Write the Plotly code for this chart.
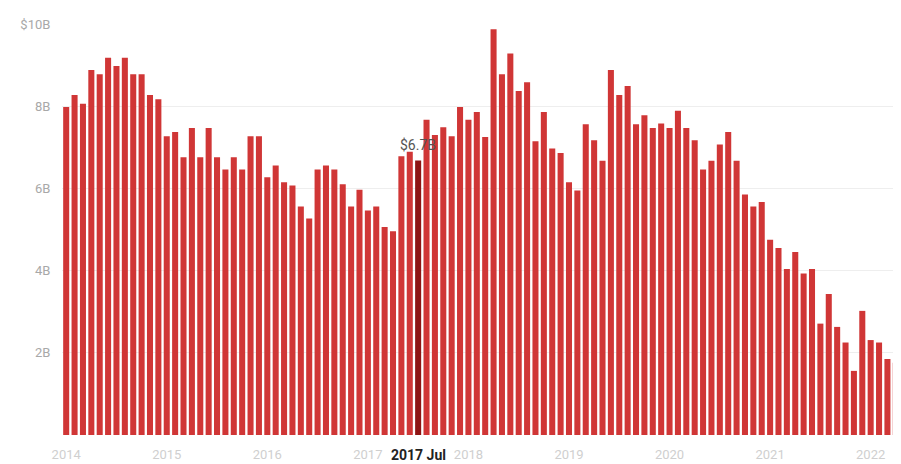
import plotly.graph_objects as go

months = [f"{y} {m}" for y in range(2014, 2023) for m in
          ["Jan", "Feb", "Mar", "Apr", "May", "Jun", "Jul", "Aug", "Sep", "Oct", "Nov", "Dec"]][:100]

values_b = [
    7.98, 8.27, 8.06, 8.88, 8.78, 9.18, 8.98, 9.18, 8.78, 8.78, 8.27, 8.17,   # 2014
    7.27, 7.37, 6.76, 7.47, 6.76, 7.47, 6.76, 6.46, 6.76, 6.46, 7.27, 7.27,   # 2015
    6.27, 6.56, 6.15, 6.07, 5.56, 5.27, 6.46, 6.56, 6.46, 6.10, 5.56, 5.97,   # 2016
    5.46, 5.56, 5.06, 4.96, 6.78, 6.89, 6.68, 7.67, 7.30, 7.49, 7.27, 7.98,   # 2017
    7.67, 7.86, 7.25, 9.87, 8.78, 9.28, 8.37, 8.58, 7.15, 7.86, 6.97, 6.86,   # 2018
    6.15, 5.95, 7.56, 7.17, 6.67, 8.88, 8.27, 8.49, 7.56, 7.78, 7.47, 7.58,   # 2019
    7.47, 7.89, 7.47, 7.17, 6.46, 6.67, 7.07, 7.37, 6.67, 5.85, 5.56, 5.67,   # 2020
    4.75, 4.55, 4.04, 4.45, 3.93, 4.04, 2.71, 3.43, 2.63, 2.25, 1.56, 3.02,   # 2021
    2.31, 2.25, 1.85, 1.76,                                                   # 2022
]

year_labels = ["2014", "2015", "2016", "2017", "2018", "2019", "2020", "2021", "2022"]
y_tick_vals = [2, 4, 6, 8, 10]
y_tick_text = ["2B", "4B", "6B", "8B", "$10B"]

highlight = "2017 Jul"
highlight_label = "$6.7B"

hi_idx = months.index(highlight)
x_idx = list(range(len(months)))
colors = ["#8e1414" if i == hi_idx else "#d03636" for i in x_idx]

fig = go.Figure()
fig.add_trace(go.Bar(
    x=x_idx, y=values_b, marker=dict(color=colors, line=dict(width=0)),
    hovertext=months, hoverinfo="text+y",
))

# page body has an 8px default margin, so the figure is sized to fit the window
fig.update_layout(
    width=893, height=456,
    margin=dict(l=54, r=1, t=16, b=29),
    paper_bgcolor="white", plot_bgcolor="white",
    bargap=0.28,
    showlegend=False,
    font=dict(family="Roboto, Arial, sans-serif", size=13, color="#aaaaaa"),
)
fig.update_xaxes(
    range=[-0.5, len(months) - 0.5],
    tickmode="array",
    tickvals=[months.index(f"{y} Jan") for y in year_labels],
    ticktext=year_labels,
    tickfont=dict(color="#cfcfcf", size=13),
    ticks="outside", ticklen=7, tickcolor="rgba(0,0,0,0)",
    showgrid=False, zeroline=False, showline=False,
    automargin=False,
)
fig.update_yaxes(
    range=[0, 10],
    tickmode="array", tickvals=y_tick_vals, ticktext=y_tick_text,
    tickfont=dict(color="#a8a8a8", size=13),
    showgrid=True, gridcolor="#eeeeee", gridwidth=1,
    zeroline=False, showline=False,
    ticks="outside", ticklen=8, tickcolor="rgba(0,0,0,0)",
    automargin=False,
)

fig.add_annotation(
    x=hi_idx, y=values_b[hi_idx], yref="y", xref="x",
    text=highlight_label, showarrow=False, yanchor="bottom", yshift=5,
    font=dict(color="#555555", size=14, family="Roboto, Arial, sans-serif"),
)
fig.add_annotation(
    x=hi_idx, y=0, xref="x", yref="paper",
    text="<b>" + highlight + "</b>", showarrow=False, yanchor="middle", yshift=-20,
    bgcolor="white", borderpad=1,
    font=dict(color="#222222", size=14, family="Roboto, Arial, sans-serif"),
)

fig.write_html("out.html")
